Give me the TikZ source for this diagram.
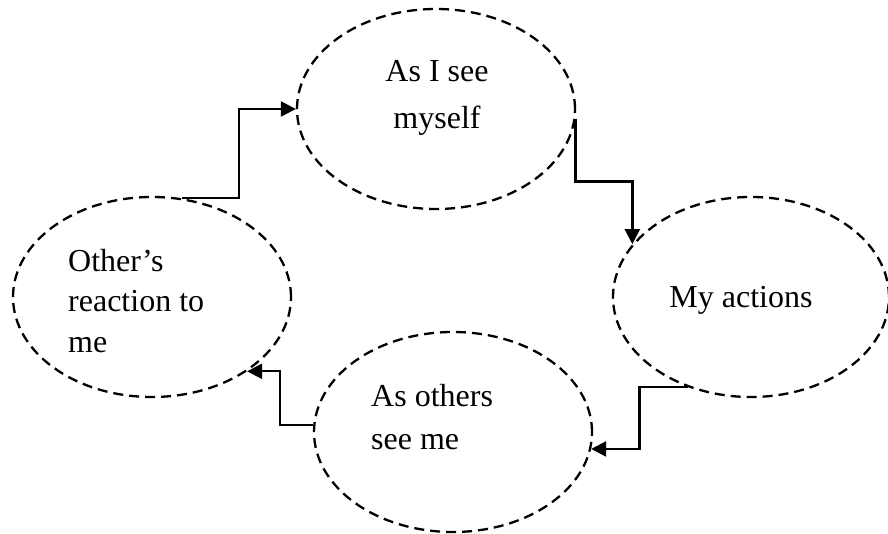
\documentclass[tikz,border=0pt]{standalone}
\usepackage{fontspec}
\setmainfont{Liberation Serif}
\usepackage{tikz}
\usetikzlibrary{calc,shapes.geometric,arrows.meta}

\begin{document}
\begin{tikzpicture}[x=1pt, y=1pt,
  bubble/.style={ellipse, draw=black, line width=2.3pt, dash pattern=on 10pt off 6pt,
    minimum width=278pt, minimum height=200pt, inner sep=0pt},
  words/.style={font=\fontsize{32}{43}\selectfont, inner sep=0pt},
  link/.style={draw=black, line width=2.3pt, -{Triangle[length=15pt,width=15pt]}}]
  \useasboundingbox (0,0) rectangle (888,-534);
  \node[bubble] (self) at (436,-109) {};
  \node[bubble, minimum width=276pt] (act) at (751,-297) {};
  \node[bubble] (others) at (453,-432) {};
  \node[bubble] (other) at (152,-297) {};
  \node[words, align=center, font=\fontsize{32}{47}\selectfont] (self-t) at (437,-98) {As I see\\myself};
  \node[words] (act-t) at (741,-300) {My actions};
  \node[words, align=left, anchor=west] (others-t) at (371,-417) {As others\\see me};
  \node[words, align=left, anchor=west, font=\fontsize{32}{40.5}\selectfont] (other-t) at (68,-301) {Other’s\\reaction to\\me};
  \draw[link] (other.73) -| ($(other.73)!.5!(self.west)$) |- (self.west);
  \draw[link] (self.-4) |- ($(self.-4)!.5!(act.156)$) -| (act.156);
  \draw[link] (act.235) -| ($(act.235)!.5!(others.-7)$) |- (others.-7);
  \draw[link] (others.177) -| ($(others.177)!.5!(other.-38)$) |- (other.-38);
\end{tikzpicture}
\end{document}
